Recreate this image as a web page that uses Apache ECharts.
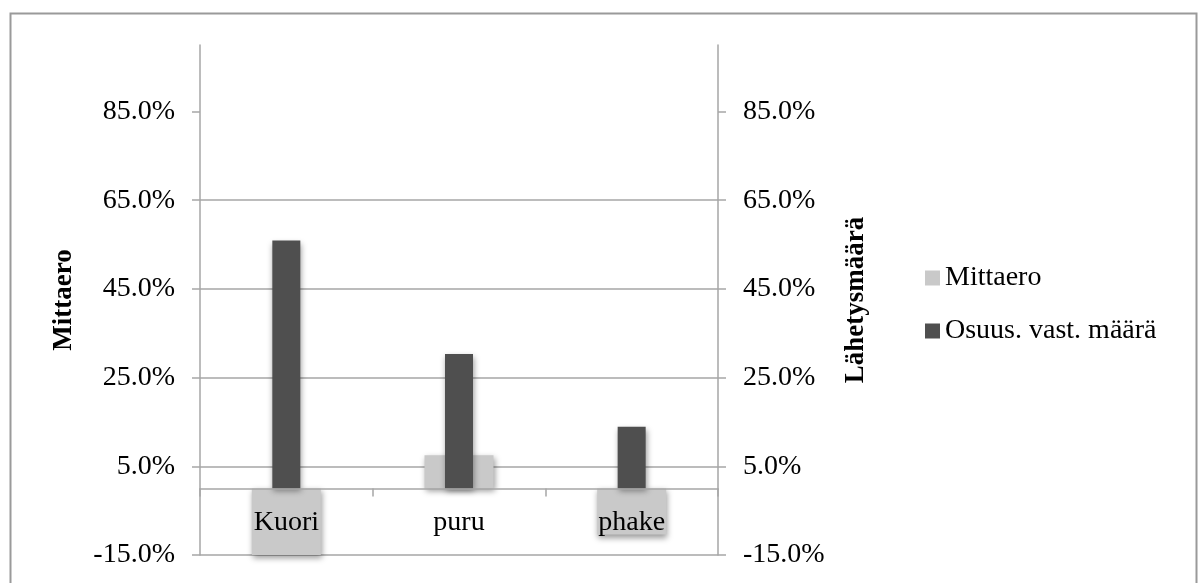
<!DOCTYPE html>
<html>
<head>
<meta charset="utf-8">
<script src="https://cdn.jsdelivr.net/npm/echarts@6/dist/echarts.min.js"></script>
<style>
  html, body { margin: 0; padding: 0; background: #fff; }
  #chart { width: 1202px; height: 583px; }
</style>
</head>
<body>
<div id="chart"></div>
<script>
// Categories and series values (percent)
const categories = ['Kuori', 'puru', 'phake'];
const mittaero = [-15.0, 7.5, -10.4];
const osuusVastMaara = [55.9, 30.3, 13.9];
const tickValues = [-15, 5, 25, 45, 65, 85];
const seriesNames = ['Mittaero', 'Osuus. vast. määrä'];
const axisTitles = ['Mittaero', 'Lähetysmäärä'];

const FONT = "'Liberation Serif', 'Times New Roman', serif";
const GRID_COLOR = '#a6a6a6';
const pct = v => v.toFixed(1) + '%';

function valueAxis(position, title, nameGap, showSplit) {
  return {
    type: 'value',
    position: position,
    min: -15,
    max: 100,
    name: title,
    nameLocation: 'middle',
    nameRotate: 90,
    nameGap: nameGap,
    nameTextStyle: { fontFamily: FONT, fontSize: 27, fontWeight: 'bold', color: '#000' },
    axisLine: { show: true, lineStyle: { color: GRID_COLOR, width: 1.5 } },
    axisTick: { show: true, length: 8, inside: false, customValues: tickValues,
                lineStyle: { color: GRID_COLOR, width: 1.5 } },
    axisLabel: { customValues: tickValues, formatter: pct, margin: 25,
                 fontFamily: FONT, fontSize: 28, color: '#000' },
    splitLine: { show: showSplit, showMaxLine: false, lineStyle: { color: GRID_COLOR, width: 1.5 } }
  };
}

const barShadow = {
  shadowColor: 'rgba(0,0,0,0.4)',
  shadowBlur: 6,
  shadowOffsetX: 1,
  shadowOffsetY: 3
};

const chart = echarts.init(document.getElementById('chart'), null, { renderer: 'canvas' });
chart.setOption({
  animation: false,
  backgroundColor: '#fff',
  grid: { left: 200, right: 484, top: 45, bottom: 28, containLabel: false, outerBoundsMode: 'none' },
  graphic: [{
    type: 'rect',
    left: 8, top: 11,
    shape: { width: 1186, height: 600 },
    style: { fill: null, stroke: '#9a9a9a', lineWidth: 2 },
    silent: true
  }],
  legend: {
    orient: 'vertical',
    left: 925,
    top: 263,
    padding: 0,
    icon: 'rect',
    itemWidth: 15,
    itemHeight: 15,
    itemGap: 23,
    textStyle: { fontFamily: FONT, fontSize: 28, color: '#000', lineHeight: 30 },
    data: seriesNames
  },
  xAxis: [{
    type: 'category',
    data: categories,
    z: 5,
    axisLine: { show: true, onZero: true, lineStyle: { color: GRID_COLOR, width: 1.5 } },
    axisTick: { show: true, length: 8, lineStyle: { color: GRID_COLOR, width: 1.5 } },
    axisLabel: { margin: -46, fontFamily: FONT, fontSize: 28, color: '#000' }
  }, {
    type: 'category',
    data: categories,
    show: false
  }],
  yAxis: [
    valueAxis('left', axisTitles[0], 122, true),
    valueAxis('right', axisTitles[1], 125, false)
  ],
  series: [{
    name: seriesNames[0],
    type: 'bar',
    xAxisIndex: 0,
    yAxisIndex: 0,
    barWidth: 69,
    data: mittaero,
    itemStyle: Object.assign({ color: '#c9c9c9' }, barShadow)
  }, {
    name: seriesNames[1],
    type: 'bar',
    xAxisIndex: 1,
    yAxisIndex: 1,
    barWidth: 28,
    data: osuusVastMaara,
    itemStyle: Object.assign({ color: '#4f4f4f' }, barShadow)
  }]
});
</script>
</body>
</html>
